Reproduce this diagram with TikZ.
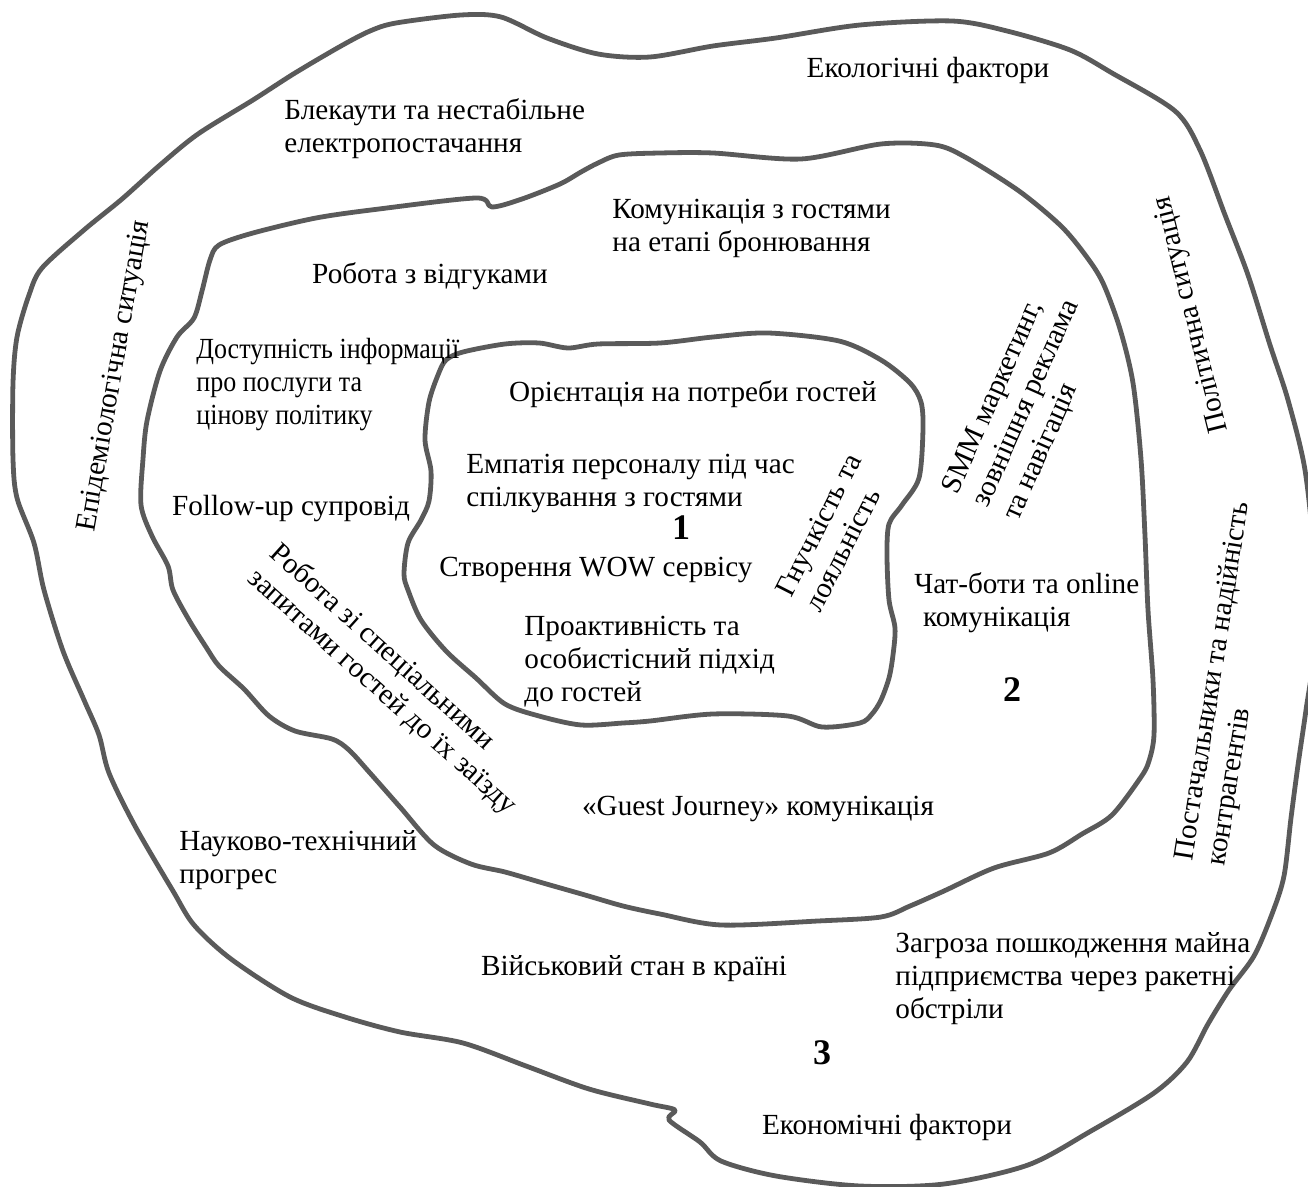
\documentclass[tikz,border=0pt]{standalone}
\usepackage{fontspec}
\setmainfont{Liberation Serif}
\definecolor{ringgray}{RGB}{90,90,90}
\tikzset{
  ring/.style={draw=ringgray, line width=2.4pt, line join=round},
  lbl/.style={inner sep=0pt, align=left, font=\fontsize{14.6}{16.5}\selectfont},
  zone/.style={inner sep=0pt, font=\fontsize{18}{20}\selectfont\bfseries}
}
\begin{document}
\begin{tikzpicture}[x=0.5pt, y=-0.5pt]
\useasboundingbox (0,0) rectangle (1308,1187);

% outer ring
\draw[ring] plot[smooth cycle, tension=.5] coordinates {
  (42,268) (84,230) (122,199) (160,165) (198,134) (253,100) (295,73) (341,46)
  (370,31) (396,23) (461,15) (501,17) (547,38) (598,54) (650,57) (713,46)
  (776,38) (860,25) (952,21) (1007,31) (1070,50) (1112,73) (1175,111) (1200,150)
  (1225,215) (1248,275) (1270,345) (1288,400) (1305,470) (1314,560) (1314,650)
  (1306,710) (1298,765) (1291,818) (1284,876) (1272,914) (1254,956) (1229,990)
  (1208,1024) (1187,1062) (1154,1093) (1091,1131) (1028,1165) (944,1184)
  (860,1186) (776,1176) (721,1161) (700,1142) (669,1120) (675,1110) (650,1104)
  (589,1089) (526,1066) (463,1043) (400,1032) (345,1017) (290,997) (231,959)
  (194,925) (173,891) (135,826) (109,773) (99,735) (84,700) (63,651) (44,590)
  (34,543) (17,498) (13,459) (13,383) (17,337) (29,295)};

% middle ring
\draw[ring] plot[smooth cycle, tension=.5] coordinates {
  (219,245) (253,233) (316,218) (379,209) (476,198) (492,207) (522,199) (560,184)
  (581,172) (598,163) (619,155) (660,153) (713,153) (801,159) (881,144) (935,145)
  (965,157) (1019,191) (1061,226) (1086,256) (1103,283) (1120,329) (1133,383)
  (1141,459) (1145,536) (1148,610) (1153,680) (1154,735) (1149,761) (1141,777)
  (1112,815) (1082,834) (1049,853) (994,868) (944,891) (910,906) (881,917)
  (818,921) (721,925) (660,914) (623,906) (585,895) (543,883) (505,872) (471,864)
  (434,845) (400,807) (370,773) (349,750) (332,739) (295,731) (269,716) (244,689)
  (219,666) (206,647) (189,620) (173,590) (168,566) (152,536) (141,505) (143,459)
  (147,421) (160,371) (177,337) (194,318) (202,291) (210,260)};

% inner ring
\draw[ring] plot[smooth cycle, tension=.5] coordinates {
  (446,360) (463,352) (505,344) (539,343) (568,348) (598,344) (660,343) (713,337)
  (768,333) (839,341) (881,360) (910,383) (921,402) (923,429) (919,478) (902,505)
  (889,524) (887,555) (889,600) (895,628) (893,655) (889,678) (881,700) (872,714)
  (860,723) (822,727) (788,716) (713,714) (650,721) (623,723) (581,725) (539,716)
  (505,704) (476,678) (446,651) (421,620) (408,590) (404,574) (408,543) (421,520)
  (429,501) (431,471) (425,440) (429,402) (438,375)};

% zone 1
\node[lbl] (orient) at (693,394) {Орієнтація на потреби гостей};
\node[lbl, anchor=west] (empat) at (466,483) {Емпатія персоналу під час\\спілкування з гостями};
\node[zone] (one) at (681,528) {1};
\node[lbl] (stvor) at (596,570) {Створення WOW сервісу};
\node[lbl, anchor=west] (proakt) at (524,662) {Проактивність та\\особистісний підхід\\до гостей};
\node[lbl, rotate=63] (gnuch) at (833,532) {Гнучкість та\\лояльність};

% zone 2
\node[lbl, anchor=west] (komun) at (612,228) {Комунікація з гостями\\на етапі бронювання};
\node[lbl] (vidguk) at (430,276) {Робота з відгуками};
\node[lbl, anchor=west, font=\fontsize{14.6}{16.5}\selectfont\addfontfeature{FakeStretch=0.89}]
  (dostup) at (196,385) {Доступність інформації\\про послуги та\\цінову політику};
\node[lbl] (follow) at (291,509) {Follow-up супровід};
\node[lbl, rotate=-42] (specz) at (393,680) {Робота зі спеціальними\\запитами гостей до їх заїзду};
\node[lbl, rotate=66] (smm) at (1027,404) {SMM маркетинг,\\зовнішня реклама\\та навігація};
\node[lbl, anchor=west] (chat) at (914,603) {Чат-боти та online\\\hspace{0.3em}комунікація};
\node[zone] (two) at (1012,690) {2};
\node[lbl] (guest) at (758,809) {«Guest Journey» комунікація};

% zone 3
\node[lbl] (ecol) at (928,70) {Екологічні фактори};
\node[lbl, anchor=west] (blek) at (284,129) {Блекаути та нестабільне\\електропостачання};
\node[lbl, rotate=80] (epid) at (115,376) {Епідеміологічна ситуація};
\node[lbl, rotate=104] (polit) at (1192,315) {Політична ситуація};
\node[lbl, rotate=81] (postach) at (1230,684) {Постачальники та надійність\\контрагентів};
\node[lbl, anchor=west] (nauk) at (179,860) {Науково-технічний\\прогрес};
\node[lbl] (viysk) at (634,969) {Військовий стан в країні};
\node[lbl, anchor=west] (zagr) at (895,979) {Загроза пошкодження майна\\підприємства через ракетні\\обстріли};
\node[zone] (three) at (822,1053) {3};
\node[lbl] (econ) at (887,1127) {Економічні фактори};
\end{tikzpicture}
\end{document}
